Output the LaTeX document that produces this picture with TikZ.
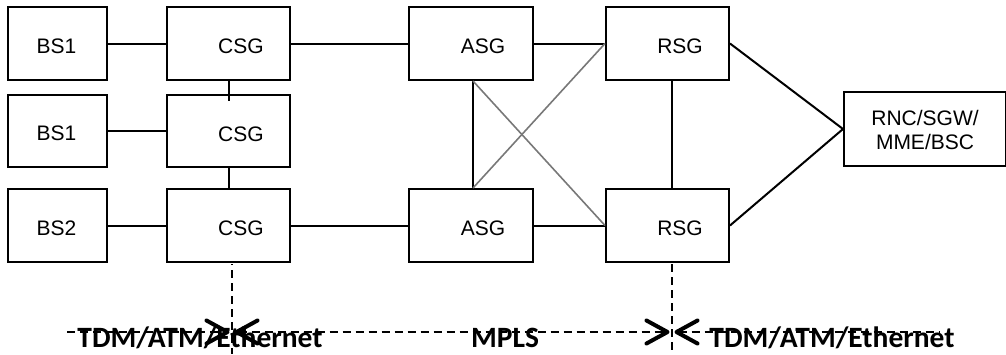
\documentclass[tikz,border=0pt]{standalone}
\usepackage{fontspec}
\setmainfont{Liberation Sans}
\newfontfamily\labfont{Carlito}
\usetikzlibrary{arrows.meta}
\definecolor{crossgray}{RGB}{120,120,120}
\tikzset{
  box/.style={draw=black, line width=2pt, minimum height=73pt, inner sep=0pt, fill=none},
  boxtxt/.style={font=\fontsize{21}{24}\selectfont, inner sep=0pt},
  link/.style={line width=2pt, black},
  crosslink/.style={line width=1.6pt, crossgray},
  dashline/.style={line width=1.9pt, dash pattern=on 8pt off 5pt},
  >={Straight Barb[length=21pt,width=23pt,line width=4pt,round]},
  bottomlab/.style={font=\labfont\bfseries\fontsize{29.5}{31}\selectfont, inner sep=0pt, anchor=base}
}
\begin{document}
\begin{tikzpicture}[x=1pt,y=-1pt]
\useasboundingbox (0,0) rectangle (1006,354);
% boxes
\node[box, minimum width=99pt] (bs1a) at (57.5,43.5) {};
\node[box, minimum width=99pt, minimum height=72pt] (bs1b) at (57.5,131) {};
\node[box, minimum width=99pt] (bs2) at (57.5,225.5) {};
\node[box, minimum width=123pt] (csg1) at (228.5,43.5) {};
\node[box, minimum width=123pt, minimum height=72pt] (csg2) at (228.5,131) {};
\node[box, minimum width=123pt] (csg3) at (228.5,225.5) {};
\node[box, minimum width=124pt] (asg1) at (471,43.5) {};
\node[box, minimum width=124pt] (asg2) at (471,225.5) {};
\node[box, minimum width=123pt] (rsg1) at (667.5,43.5) {};
\node[box, minimum width=123pt] (rsg2) at (667.5,225.5) {};
\node[box, minimum width=162pt, minimum height=74pt] (rnc) at (925,129) {};
% box texts
\node[boxtxt] (t1) at ([shift={(-1pt,-2.5pt)}]bs1a.center) {BS1};
\node[boxtxt] (t2) at ([shift={(-1pt,-2.5pt)}]bs1b.center) {BS1};
\node[boxtxt] (t3) at ([shift={(-1pt,-2.5pt)}]bs2.center) {BS2};
\node[boxtxt] (t4) at ([shift={(12.5pt,-3pt)}]csg1.center) {CSG};
\node[boxtxt] (t5) at ([shift={(12.5pt,-3pt)}]csg2.center) {CSG};
\node[boxtxt] (t6) at ([shift={(12.5pt,-3pt)}]csg3.center) {CSG};
\node[boxtxt] (t7) at ([shift={(12pt,-3pt)}]asg1.center) {ASG};
\node[boxtxt] (t8) at ([shift={(12pt,-3pt)}]asg2.center) {ASG};
\node[boxtxt] (t9) at ([shift={(12.5pt,-3pt)}]rsg1.center) {RSG};
\node[boxtxt] (t10) at ([shift={(12.5pt,-3pt)}]rsg2.center) {RSG};
\node[boxtxt, align=center] (t11) at ([shift={(0pt,-0.5pt)}]rnc.center) {RNC/SGW/\\MME/BSC};
% links
\draw[link] (bs1a.east) -- (csg1.west);
\draw[link] (bs1b.east) -- (csg2.west);
\draw[link] (bs2.east) -- (csg3.west);
\draw[link] (csg1.south) -- ([yshift=-7pt]csg2.north);
\draw[link] (csg2.south) -- ([yshift=-2pt]csg3.north);
\draw[link] (csg1.east) -- (asg1.west);
\draw[link] (csg3.east) -- (asg2.west);
\draw[link] (asg1.east) -- (rsg1.west);
\draw[link] (asg2.east) -- (rsg2.west);
\draw[link] ([xshift=2pt]asg1.south) -- ([xshift=2pt]asg2.north);
\draw[link] ([xshift=4pt]rsg1.south) -- ([xshift=4pt]rsg2.north);
\draw[crosslink] ([xshift=2pt]asg1.south) -- (rsg2.west);
\draw[crosslink] ([xshift=2pt]asg2.north) -- (rsg1.west);
\draw[link] (rsg1.east) -- (rnc.west);
\draw[link] (rsg2.east) -- (rnc.west);
% bottom dashed
\coordinate (cv0) at (232,264);
\coordinate (cv1) at (232,354);
\coordinate (rv0) at (672,264);
\coordinate (rv1) at (672,354);
\coordinate (hl) at (67,332);
\coordinate (hal) at (229.5,332);
\coordinate (har) at (234.5,332);
\coordinate (hbl) at (669.5,332);
\coordinate (hbr) at (674.5,332);
\coordinate (hr) at (940,332);
\draw[dashline, dash phase=-6pt] (cv0) -- (cv1);
\draw[dashline] (rv0) -- (rv1);
\draw[dashline, ->] (hl) -- (hal);
\draw[dashline, <->] (har) -- (hbl);
\draw[dashline, <-] (hbr) -- (hr);
% bottom labels
\node[bottomlab] (l1) at (200,347) {TDM/ATM/Ethernet};
\node[bottomlab] (l2) at (505,347) {MPLS};
\node[bottomlab] (l3) at (832,347) {TDM/ATM/Ethernet};
\end{tikzpicture}
\end{document}
